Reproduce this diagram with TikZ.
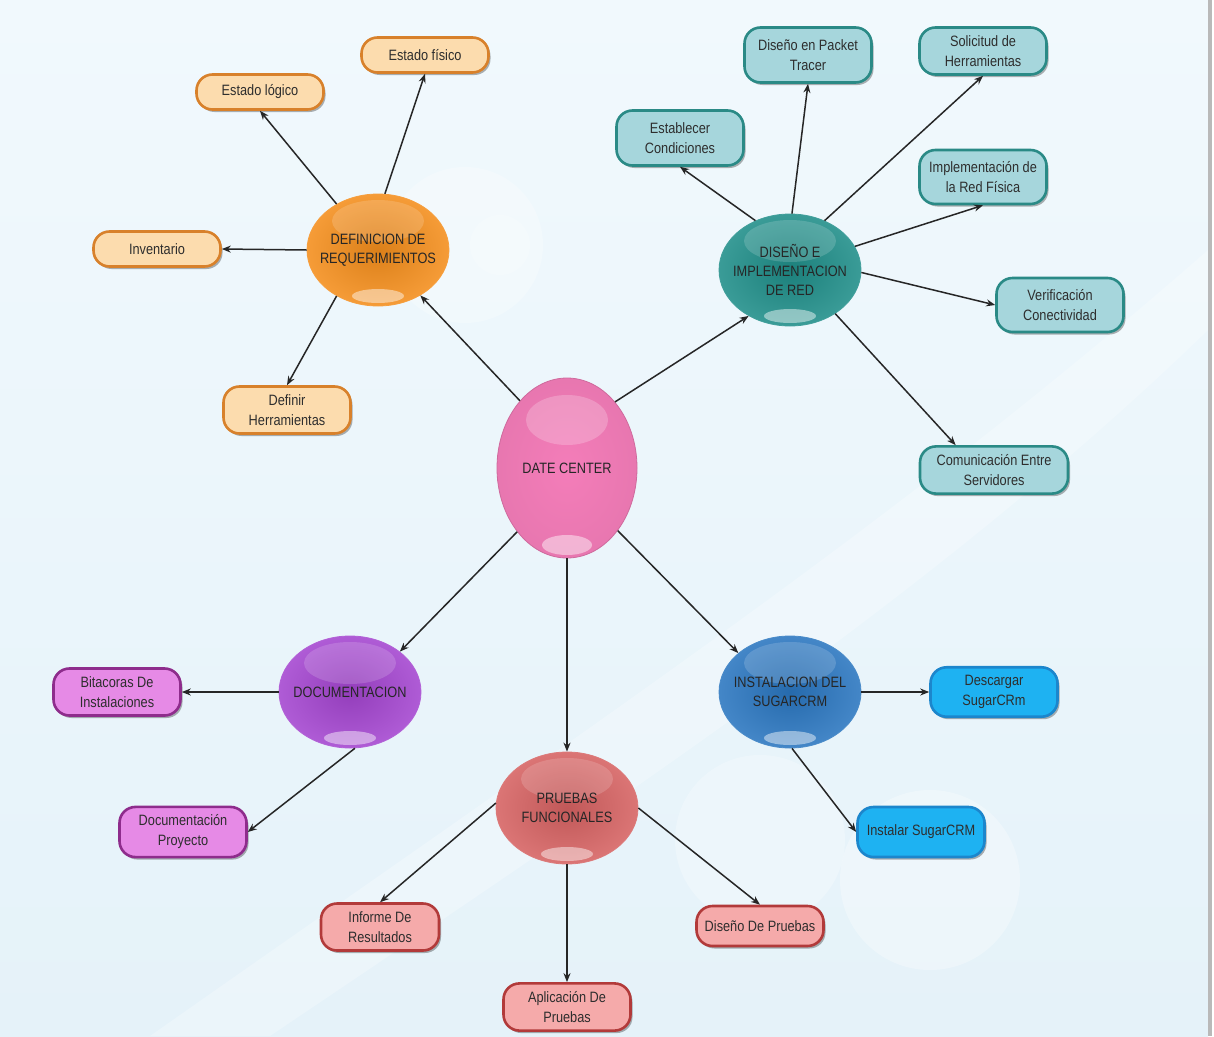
\documentclass[tikz,border=0pt]{standalone}
\usepackage{fontspec}
\setmainfont[FakeStretch=0.85]{Liberation Sans}
\usetikzlibrary{shapes.geometric,shapes.misc,shadows,arrows.meta,calc}

\definecolor{bgtop}{HTML}{F1F9FD}
\definecolor{bgbot}{HTML}{E5F2F9}
\definecolor{hdc}{HTML}{F47DB9}
\definecolor{hdef}{HTML}{F48E1C}
\definecolor{hred}{HTML}{1F8E89}
\definecolor{hdoc}{HTML}{A445D0}
\definecolor{hins}{HTML}{2A76C0}
\definecolor{hpru}{HTML}{D66262}
\definecolor{lorg}{HTML}{FCDCAE}\definecolor{dorg}{HTML}{D8812B}
\definecolor{ltea}{HTML}{A6D6DC}\definecolor{dtea}{HTML}{2A8A86}
\definecolor{lpur}{HTML}{E68AE6}\definecolor{dpur}{HTML}{8E2C8C}
\definecolor{lblu}{HTML}{1EB2F2}\definecolor{dblu}{HTML}{1C86CC}
\definecolor{lred}{HTML}{F5AAAA}\definecolor{dred}{HTML}{B23A3A}

\newcommand{\hubfnt}{\fontsize{15}{19}\selectfont}
\newcommand{\leaffnt}{\fontsize{15}{20}\selectfont}

\tikzset{
  hub/.style={ellipse, inner xsep=-14pt, inner ysep=0pt, align=center,
    text=black!85, font=\hubfnt, line width=0.8pt,
    minimum width=142pt, minimum height=112pt,
    draw=#1!85!white, inner color=#1!90!black, outer color=#1!88!white,
    path picture={
      \fill[white,opacity=0.16] ([yshift=-27pt]path picture bounding box.north) ellipse [x radius=46pt, y radius=21pt];
      \fill[white,opacity=0.45] ([yshift=10pt]path picture bounding box.south) ellipse [x radius=26pt, y radius=7pt];
    }},
  bighub/.style={ellipse, inner xsep=-14pt, inner ysep=0pt, align=center,
    text=black!85, font=\hubfnt, line width=0.8pt,
    minimum width=140pt, minimum height=180pt,
    draw=#1!85!black, inner color=#1, outer color=#1!95!black,
    path picture={
      \fill[white,opacity=0.22] ([yshift=-42pt]path picture bounding box.north) ellipse [x radius=41pt, y radius=25pt];
      \fill[white,opacity=0.45] ([yshift=13pt]path picture bounding box.south) ellipse [x radius=25pt, y radius=10pt];
    }},
  leaf/.style 2 args={rectangle, rounded corners=16pt, draw=#2, fill=#1,
    line width=2.6pt, minimum width=127pt, minimum height=35pt,
    inner xsep=4pt, inner ysep=8pt, align=center, font=\leaffnt, text=black!82,
    drop shadow={shadow xshift=2pt, shadow yshift=-2.5pt, opacity=0.3, fill=black}},
  arr/.style={draw=black!85, line width=1.5pt, -{Stealth[length=9pt,width=7pt]}},
}

\begin{document}
\begin{tikzpicture}[x=1pt,y=-1pt]
\useasboundingbox (0,0) rectangle (1214,1036);
% background
\shade[top color=bgtop, bottom color=bgbot] (0,0) rectangle (1208,1036);
\fill[white,opacity=0.25] (150,1036) .. controls (600,720) and (900,520) .. (1208,250)
  -- (1208,330) .. controls (950,580) and (650,780) .. (270,1036) -- cycle;
\fill[white,opacity=0.25] (465,245) circle (78pt);
\fill[white,opacity=0.2] (500,245) circle (30pt);
\fill[white,opacity=0.25] (760,840) circle (85pt);
\fill[white,opacity=0.3] (930,880) circle (90pt);
\fill[gray!55] (1208,0) rectangle (1212,1036);
\fill[white] (1212,0) rectangle (1214,1036);

% hubs
\node[bighub=hdc] (dc) at (567,468) {DATE CENTER};
\node[hub=hdef] (def) at (378,250) {DEFINICION DE\\REQUERIMIENTOS};
\node[hub=hred] (red) at (790,270) {DISEÑO E\\IMPLEMENTACION\\DE RED};
\node[hub=hdoc] (doc) at (350,692) {DOCUMENTACION};
\node[hub=hins] (ins) at (790,692) {INSTALACION DEL\\SUGARCRM};
\node[hub=hpru] (pru) at (567,808) {PRUEBAS\\FUNCIONALES};

% orange leaves
\node[leaf={lorg}{dorg}] (efis) at (425,55) {Estado físico};
\node[leaf={lorg}{dorg}] (elog) at (260,92) {Estado lógico};
\node[leaf={lorg}{dorg}] (inv) at (157,249) {Inventario};
\node[leaf={lorg}{dorg}] (defh) at (287,410) {Definir\\Herramientas};
% teal leaves
\node[leaf={ltea}{dtea}, minimum height=55pt] (est) at (680,138) {Establecer\\Condiciones};
\node[leaf={ltea}{dtea}, minimum height=55pt] (pkt) at (808,55) {Diseño en Packet\\Tracer};
\node[leaf={ltea}{dtea}] (sol) at (983,51) {Solicitud de\\Herramientas};
\node[leaf={ltea}{dtea}, minimum height=54pt] (imp) at (983,177) {Implementación de\\la Red Física};
\node[leaf={ltea}{dtea}, minimum height=54pt] (ver) at (1060,305) {Verificación\\Conectividad};
\node[leaf={ltea}{dtea}, minimum width=148pt] (com) at (994,470) {Comunicación Entre\\Servidores};
% purple leaves
\node[leaf={lpur}{dpur}] (bit) at (117,692) {Bitacoras De\\Instalaciones};
\node[leaf={lpur}{dpur}] (docp) at (183,832) {Documentación\\Proyecto};
% blue leaves
\node[leaf={lblu}{dblu}] (desc) at (994,692) {Descargar\\SugarCRm};
\node[leaf={lblu}{dblu}, minimum height=50pt] (inst) at (921,832) {Instalar SugarCRM};
% red leaves
\node[leaf={lred}{dred}, minimum width=118pt] (inf) at (380,927) {Informe De\\Resultados};
\node[leaf={lred}{dred}, minimum height=45pt] (apl) at (567,1007) {Aplicación De\\Pruebas};
\node[leaf={lred}{dred}, minimum height=40pt] (dpr) at (760,926) {Diseño De Pruebas};

% connectors
\draw[arr] (dc.125) -- (def.313);
\draw[arr] (dc.54) -- (red.228);
\draw[arr] (dc.232) -- (doc.39);
\draw[arr] (dc.south) -- (pru.north);
\draw[arr] (dc.309) -- (ins.143);

\draw[arr] (def.132) -- (elog.south);
\draw[arr] (def.83) -- (efis.south);
\draw[arr] (def.west) -- (inv.east);
\draw[arr] (def.228) -- (defh.north);

\draw[arr] (red.125) -- (est.south);
\draw[arr] (red.88) -- (pkt.south);
\draw[arr] (red.55) -- (sol.south);
\draw[arr] (red.20) -- (imp.south);
\draw[arr] (red.358) -- (ver.west);
\draw[arr] (red.316) -- (com.147);

\draw[arr] (doc.west) -- (bit.east);
\draw[arr] (doc.275) -- (docp.east);

\draw[arr] (ins.east) -- (desc.west);
\draw[arr] (ins.272) -- (inst.west);

\draw[arr] (pru.176) -- (inf.north);
\draw[arr] (pru.south) -- (apl.north);
\draw[arr] (pru.0) -- (dpr.north);
\end{tikzpicture}
\end{document}
